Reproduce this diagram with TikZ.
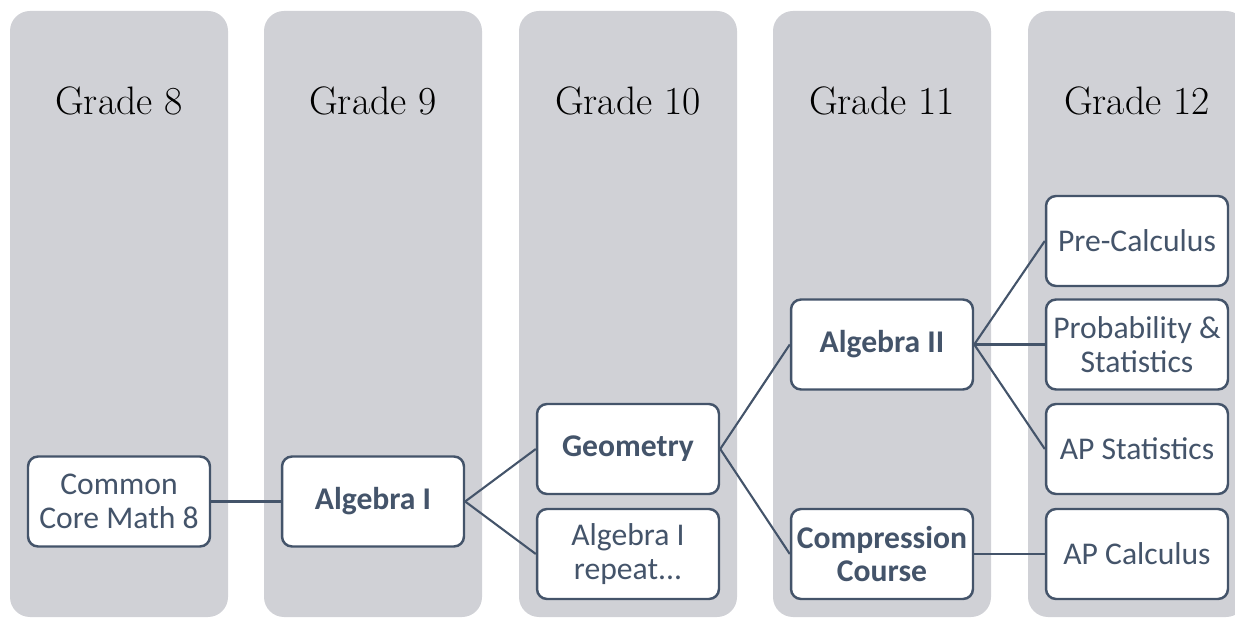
\documentclass[tikz,border=0pt]{standalone}
\usepackage{fontspec}
\newfontfamily\calibri{Carlito}
\definecolor{colfill}{RGB}{208,209,214}
\definecolor{slate}{RGB}{68,84,106}
\tikzset{
  x=0.02cm, y=-0.02cm,
  column/.style={fill=colfill, draw=none, rounded corners=0.4cm},
  heading/.style={anchor=base, inner sep=0pt, font=\fontsize{22.6}{25}\selectfont, text=black},
  box/.style={draw=slate, line width=1.4pt, fill=white, rounded corners=0.2cm,
    minimum width=3.64cm, minimum height=1.80cm, inner sep=0pt, align=center,
    text=slate, font=\calibri\fontsize{18}{19}\selectfont},
  bbox/.style={box, font=\calibri\bfseries\fontsize{18}{19}\selectfont},
  link/.style={draw=slate, line width=1.2pt}
}
\begin{document}
\begin{tikzpicture}
\useasboundingbox (0,0) rectangle (1235,618);
\clip (0,0) rectangle (1235,618);
% columns
\foreach \cx in {10,264,519,773,1028} {
  \fill[column] (\cx,11) rectangle ++(218,606);
}
% headings
\node[heading] (g8)  at (119,115) {Grade 8};
\node[heading] (g9)  at (373,115) {Grade 9};
\node[heading] (g10) at (628,115) {Grade 10};
\node[heading] (g11) at (882,115) {Grade 11};
\node[heading] (g12) at (1137,115) {Grade 12};
% nodes
\node[box]  (ccm) at (119,501.5) {Common\\Core Math 8};
\node[bbox] (alg1) at (373,501.5) {Algebra I};
\node[bbox] (geo) at (628,449) {Geometry};
\node[box]  (rep) at (628,554) {Algebra I\\repeat{.}{.}{.}};
\node[bbox] (alg2) at (882,344.5) {Algebra II};
\node[bbox] (comp) at (882,554) {Compression\\Course};
\node[box]  (pre) at (1137,241) {Pre-Calculus};
\node[box]  (prob) at (1137,344.5) {Probability \&\\Statistics};
\node[box]  (aps) at (1137,449) {AP Statistics};
\node[box]  (apc) at (1137,554) {AP Calculus};
% connectors
\draw[link] (ccm.east) -- (alg1.west);
\draw[link] (alg1.east) -- (geo.west);
\draw[link] (alg1.east) -- (rep.west);
\draw[link] (geo.east) -- (alg2.west);
\draw[link] (geo.east) -- (comp.west);
\draw[link] (alg2.east) -- (pre.west);
\draw[link] (alg2.east) -- (prob.west);
\draw[link] (alg2.east) -- (aps.west);
\draw[link] (comp.east) -- (apc.west);
\end{tikzpicture}
\end{document}
